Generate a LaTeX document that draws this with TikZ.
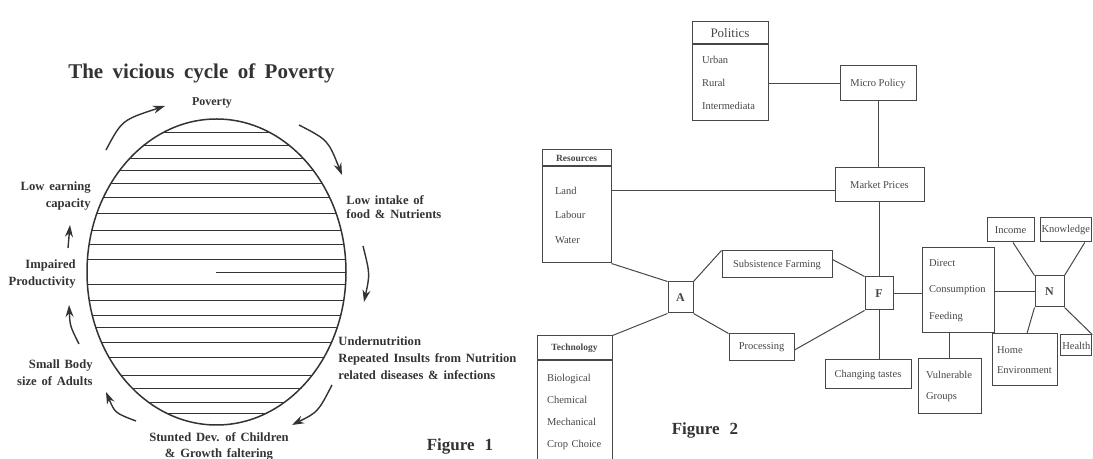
\documentclass[tikz,border=0pt]{standalone}
\usepackage{fontspec}
\setmainfont{Liberation Serif}
\usepackage{xcolor}
\usetikzlibrary{arrows.meta}
\definecolor{ink}{gray}{0.2}
\definecolor{ink2}{gray}{0.28}
\newcommand{\widesp}[1]{\spaceskip=#1\relax}
\tikzset{
    every node/.style={font=\fontsize{5.25}{7}\selectfont, text=ink2},
    box/.style={draw=ink2, line width=0.5pt, rectangle, inner sep=0pt},
    hub/.style={box, font=\bfseries\fontsize{6}{7}\selectfont},
    head/.style={box, font=\bfseries\fontsize{4.75}{6}\selectfont},
    link/.style={draw=ink2, line width=0.5pt},
    cyc/.style={draw=ink, line width=0.7pt, -{Stealth[length=6pt,width=4pt]}},
    lbl/.style={font=\bfseries\fontsize{6.3}{8.5}\selectfont\widesp{0.38em}, text=ink, inner sep=0pt},
    fig/.style={font=\bfseries\fontsize{8.5}{10}\selectfont, text=ink}
}

\begin{document}
\begin{tikzpicture}[x=0.5pt, y=-0.5pt]
    \useasboundingbox (0,0) rectangle (1093,459);
    \clip (0,0) rectangle (1093,459);

    % figure 1
    \node[font=\bfseries\fontsize{10.5}{12}\selectfont\widesp{0.45em}, text=ink, anchor=base] (title) at (201.5,79) {The vicious cycle of Poverty};
    \node[lbl, font=\bfseries\fontsize{6}{7}\selectfont] (poverty) at (212,103) {Poverty};

    \draw[ink, line width=0.75pt] (216.5,272) ellipse [x radius=64.75pt, y radius=76.5pt];
    \begin{scope}
        \clip (216.5,272) ellipse [x radius=64.75pt, y radius=76.5pt];
        \foreach \y in {132,145,158,170,183,197,213,230,244,259,284,300,315,327,342,357,375,388,402,413}
            \draw[ink, line width=0.45pt] (80,\y) -- (360,\y);
        \draw[ink, line width=0.45pt] (216,272) -- (360,272);
    \end{scope}

    \node[lbl, align=right, anchor=east] (earning) at (91,196) {Low earning\\capacity};
    \node[lbl, align=right, anchor=east] (impaired) at (76,274) {Impaired\\Productivity};
    \node[lbl, align=right, anchor=east] (smallbody) at (93,372.5) {Small Body\\size of Adults};
    \node[lbl, align=left, anchor=west, font=\bfseries\fontsize{6.3}{7}\selectfont\widesp{0.38em}] (intake) at (346,207.5) {Low intake of\\food \& Nutrients};
    \node[lbl, align=left, anchor=west] (under) at (338,358.5) {Undernutrition\\Repeated Insults from Nutrition\\related diseases \& infections};
    \node[lbl, align=center, font=\bfseries\fontsize{6.3}{8}\selectfont\widesp{0.38em}] (stunted) at (219,446) {Stunted Dev. of Children\\\& Growth faltering};
    \node[fig] (fig1) at (460,446) {Figure\hspace{5pt}1};

    \coordinate (a1) at (106,150); \coordinate (a2) at (165,106);
    \coordinate (b1) at (299,125); \coordinate (b2) at (342,175);
    \coordinate (c1) at (363,246); \coordinate (c2) at (364,302);
    \coordinate (d1) at (332,385); \coordinate (d2) at (292,425);
    \coordinate (e1) at (136,421); \coordinate (e2) at (106,392);
    \coordinate (f1) at (79,344);  \coordinate (f2) at (69,305);
    \coordinate (g1) at (68,248);  \coordinate (g2) at (70,225);
    \draw[cyc] (a1) .. controls (122,120) .. (a2);
    \draw[cyc] (b1) .. controls (328,140) .. (b2);
    \draw[cyc] (c1) .. controls (370,274) .. (c2);
    \draw[cyc] (d1) .. controls (318,412) .. (d2);
    \draw[cyc] (e1) .. controls (115,413) .. (e2);
    \draw[cyc] (f1) .. controls (70,326) .. (f2);
    \draw[cyc] (g1) -- (g2);

    % figure 2
    \node[head, minimum width=38pt, minimum height=11pt, font=\fontsize{6.5}{8}\selectfont] (polhead) at (730,33) {Politics};
    \node[box, anchor=north, text width=28pt, inner xsep=5pt, minimum height=38pt, align=left, font=\fontsize{5.25}{11.5}\selectfont] (politics) at (polhead.south) {Urban\\Rural\\Intermediata};
    \node[head, minimum width=34.5pt, minimum height=8pt] (reshead) at (576.5,158) {Resources};
    \node[box, anchor=north, text width=21.5pt, inner xsep=6.5pt, minimum height=48pt, align=left, font=\fontsize{5.25}{12.25}\selectfont] (resources) at (reshead.south) {Land\\Labour\\Water};
    \node[head, minimum width=37.5pt, minimum height=12pt] (techhead) at (574.5,348) {Technology};
    \node[box, anchor=north, text width=27.5pt, inner xsep=5pt, minimum height=51pt, align=left, font=\fontsize{5.25}{11}\selectfont] (technology) at (techhead.south) {Biological\\Chemical\\Mechanical\\Crop Choice};

    \node[box, minimum width=38pt, minimum height=17.5pt] (micro) at (878,83.5) {Micro Policy};
    \node[box, minimum width=44.5pt, minimum height=17pt] (market) at (879.5,185) {Market Prices};
    \node[hub, minimum width=12.5pt, minimum height=15.5pt] (A) at (680.5,297.5) {A};
    \node[box, minimum width=55pt, minimum height=13.5pt] (subsist) at (777,264.5) {Subsistence Farming};
    \node[box, minimum width=32.5pt, minimum height=13.5pt] (process) at (761.5,347.5) {Processing};
    \node[hub, minimum width=14pt, minimum height=16.5pt] (F) at (879,293.5) {F};
    \node[box, minimum width=43pt, minimum height=14.5pt] (tastes) at (868,374.5) {Changing tastes};
    \node[box, text width=29pt, inner xsep=3.5pt, minimum height=42.5pt, align=left, font=\fontsize{5.25}{13.25}\selectfont] (direct) at (958,290.5) {Direct\\Consumption\\Feeding};
    \node[box, text width=23.5pt, inner xsep=4pt, minimum height=27.5pt, align=left, font=\fontsize{5.25}{10.5}\selectfont] (vulnerable) at (949.5,386.5) {Vulnerable\\Groups};
    \node[hub, minimum width=14.5pt, minimum height=15.5pt] (N) at (1049.5,291.5) {N};
    \node[box, minimum width=23.5pt, minimum height=12pt] (income) at (1010.5,230) {Income};
    \node[box, minimum width=25.5pt, minimum height=12pt] (knowledge) at (1065.75,230) {Knowledge};
    \node[box, text width=27.5pt, inner xsep=2.5pt, minimum height=26pt, align=left, font=\fontsize{5.25}{10}\selectfont] (home) at (1024.5,360) {Home\\Environment};
    \node[box, minimum width=15.5pt, minimum height=10.5pt] (health) at (1076.25,345.5) {Health};
    \node[fig] (fig2) at (705,430) {Figure\hspace{5pt}2};

    \draw[link] (micro.west) -- (micro.west -| politics.east);
    \draw[link] (micro.south) -- (micro.south |- market.north);
    \draw[link] ([yshift=-3pt]market.west) -- ([yshift=-3pt]market.west -| resources.east);
    \draw[link] (F.north) -- (F.north |- market.south);
    \draw[link] (F.south) -- (F.south |- tastes.north);
    \draw[link] (resources.south east) -- (A.north west);
    \draw[link] (A.south west) -- (techhead.north east);
    \draw[link] (A.north east) -- (subsist.north west);
    \draw[link] (A.south east) -- (process.north west);
    \draw[link] ([yshift=2.5pt]subsist.east) -- (F.north west);
    \draw[link] ([yshift=-1.25pt]process.east) -- (F.south west);
    \draw[link] (F.east) -- (F.east -| direct.west);
    \draw[link] (vulnerable.north) -- (vulnerable.north |- direct.south);
    \draw[link] (N.west) -- (N.west -| direct.east);
    \draw[link] ([xshift=1.25pt]income.south) -- (N.north west);
    \draw[link] ([xshift=-3.5pt]knowledge.south east) -- (N.north east);
    \draw[link] (N.south west) -- ([xshift=1.25pt]home.north);
    \draw[link] (N.south east) -- (health.north east);
\end{tikzpicture}
\end{document}
